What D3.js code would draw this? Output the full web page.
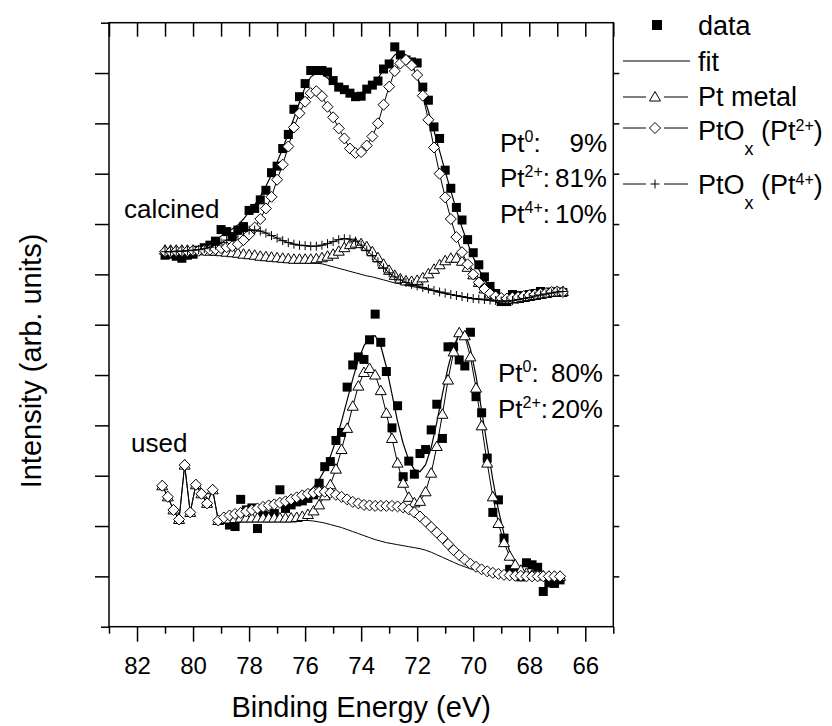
<!DOCTYPE html>
<html>
<head>
<meta charset="utf-8">
<script src="https://cdn.jsdelivr.net/npm/d3@7"></script>
<style>
  body { margin: 0; background: #fff; }
  svg { display: block; font-family: "Liberation Sans", Arial, sans-serif; }
</style>
</head>
<body>
<svg width="832" height="726"></svg>
<script>
// binding energies (eV) and intensities

const calcinedEnergy = [81.0,80.8,80.6,80.4,80.2,80.0,79.8,79.6,79.4,79.2,79.0,78.8,78.6,78.4,78.2,78.0,77.8,77.6,77.4,77.2,
  77.0,76.8,76.6,76.4,76.2,76.0,75.8,75.6,75.4,75.2,75.0,74.8,74.6,74.4,74.2,74.0,73.8,73.6,73.4,73.2,
  73.0,72.8,72.6,72.4,72.2,72.0,71.8,71.6,71.4,71.2,71.0,70.8,70.6,70.4,70.2,70.0,69.8,69.6,69.4,69.2,
  69.0,68.8,68.6,68.4,68.2,68.0,67.8,67.6,67.4,67.2,67.0,66.8];

const calcinedData = [7.38,7.40,7.36,7.32,7.38,7.40,7.48,7.53,7.58,7.66,
  7.89,7.85,7.75,7.88,7.95,8.27,8.31,8.48,8.67,9.02,
  9.15,9.50,9.78,10.28,10.53,10.79,11.05,11.05,11.05,11.02,
  10.85,10.72,10.67,10.60,10.53,10.54,10.68,10.76,10.84,11.08,
  11.18,11.52,11.36,11.26,11.22,11.20,10.72,10.46,9.93,9.70,
  9.07,8.71,8.33,8.08,7.69,7.43,7.19,6.95,6.76,6.62,
  6.46,6.46,6.60,6.58,6.57,6.60,6.62,6.66,6.62,6.65,6.65,6.64];

const calcinedFit = [7.40,7.40,7.41,7.42,7.43,7.45,7.48,7.52,7.58,7.66,
  7.76,7.84,7.90,7.98,8.10,8.24,8.38,8.55,8.75,8.98,
  9.23,9.50,9.80,10.10,10.42,10.72,10.92,11.00,10.98,10.90,
  10.80,10.70,10.62,10.58,10.56,10.58,10.65,10.76,10.90,11.06,
  11.22,11.36,11.42,11.36,11.18,10.92,10.60,10.24,9.85,9.45,
  9.05,8.66,8.28,7.93,7.62,7.34,7.10,6.90,6.74,6.62,
  6.55,6.52,6.52,6.54,6.56,6.58,6.60,6.62,6.64,6.66,6.66,6.65];

const calcinedBackground = [7.44,7.44,7.45,7.45,7.45,7.45,7.45,7.44,7.44,7.43,
  7.43,7.42,7.40,7.39,7.37,7.36,7.35,7.33,7.32,7.31,
  7.30,7.29,7.28,7.26,7.25,7.24,7.23,7.22,7.21,7.18,
  7.15,7.12,7.09,7.06,7.03,7.00,6.97,6.95,6.92,6.89,
  6.86,6.83,6.81,6.78,6.76,6.74,6.72,6.69,6.67,6.64,
  6.62,6.60,6.57,6.55,6.53,6.51,6.50,6.49,6.48,6.47,
  6.46,6.46,6.47,6.49,6.52,6.54,6.56,6.58,6.60,6.62,6.64,6.65];

const calcinedMetal = [7.48,7.48,7.48,7.48,7.48,7.48,7.47,7.47,7.46,7.46,
  7.45,7.44,7.43,7.42,7.40,7.39,7.38,7.36,7.35,7.34,
  7.33,7.32,7.31,7.30,7.30,7.30,7.30,7.31,7.33,7.36,
  7.40,7.46,7.53,7.59,7.62,7.61,7.55,7.45,7.33,7.20,
  7.08,6.98,6.91,6.87,6.86,6.88,6.93,7.01,7.10,7.19,
  7.27,7.32,7.32,7.26,7.14,6.99,6.84,6.71,6.61,6.55,
  6.52,6.51,6.51,6.52,6.54,6.56,6.58,6.60,6.62,6.64,6.65,6.66];

const calcinedPt2 = [7.45,7.45,7.46,7.46,7.46,7.47,7.47,7.48,7.49,7.50,
  7.52,7.54,7.56,7.60,7.68,7.79,7.93,8.10,8.31,8.54,
  8.88,9.18,9.54,9.92,10.20,10.43,10.60,10.64,10.54,10.33,
  10.12,9.90,9.70,9.50,9.41,9.43,9.56,9.74,10.00,10.37,
  10.73,11.04,11.19,11.26,11.15,10.96,10.55,10.07,9.52,9.00,
  8.53,8.10,7.74,7.44,7.20,7.00,6.84,6.71,6.62,6.56,
  6.53,6.52,6.54,6.55,6.57,6.59,6.60,6.62,6.63,6.65,6.66,6.65];

const calcinedPt4 = [7.45,7.45,7.46,7.46,7.47,7.48,7.49,7.51,7.54,7.58,
  7.63,7.68,7.74,7.80,7.85,7.88,7.88,7.86,7.82,7.77,
  7.72,7.67,7.63,7.60,7.58,7.57,7.56,7.56,7.58,7.61,
  7.65,7.69,7.71,7.70,7.66,7.58,7.48,7.37,7.25,7.13,
  7.03,6.95,6.89,6.84,6.80,6.77,6.74,6.71,6.68,6.65,
  6.63,6.60,6.58,6.56,6.54,6.52,6.51,6.50,6.49,6.48,
  6.47,6.47,6.48,6.50,6.52,6.54,6.57,6.59,6.61,6.63,6.65,6.66];

const usedEnergy = [81.1,80.9,80.7,80.5,80.3,80.1,79.9,79.7,79.5,79.3,79.1,78.9,78.7,78.5,78.3,78.1,77.9,77.7,77.5,77.3,
  77.1,76.9,76.7,76.5,76.3,76.1,75.9,75.7,75.5,75.3,75.1,74.9,74.7,74.5,74.3,74.1,73.9,73.7,73.5,73.3,
  73.1,72.9,72.7,72.5,72.3,72.1,71.9,71.7,71.5,71.3,71.1,70.9,70.7,70.5,70.3,70.1,69.9,69.7,69.5,69.3,
  69.1,68.9,68.7,68.5,68.3,68.1,67.9,67.7,67.5,67.3,67.1,66.9];

const usedData = [null,null,null,null,null,null,null,null,null,null,null,null,
  2.02,1.99,2.53,2.32,2.36,1.95,2.22,2.20,2.25,2.72,
  2.35,2.42,2.48,2.50,2.55,2.62,2.85,3.18,3.28,3.70,
  3.86,4.76,5.20,5.36,5.31,5.70,6.21,5.65,5.07,3.95,
  4.39,2.98,3.29,3.03,3.44,3.52,3.91,4.42,3.74,5.56,
  5.56,5.30,5.18,5.85,4.57,4.25,3.35,2.27,2.52,1.76,
  1.14,1.07,0.99,1.27,1.23,1.18,0.70,0.87,0.86,0.93];

const usedFit = [null,null,null,null,null,null,null,null,null,null,
  2.11,2.14,2.17,2.20,2.23,2.26,2.29,2.32,2.35,2.38,
  2.41,2.44,2.47,2.50,2.55,2.60,2.67,2.77,2.92,3.12,
  3.38,3.70,4.08,4.50,4.92,5.30,5.58,5.76,5.78,5.58,
  5.16,4.62,4.08,3.64,3.31,3.12,3.08,3.22,3.56,4.06,
  4.62,5.15,5.56,5.82,5.84,5.52,4.98,4.30,3.60,2.92,
  2.32,1.84,1.50,1.28,1.15,1.08,1.04,1.02,1.01,1.00,1.00,0.99];

const usedBackground = [null,null,null,null,null,null,null,null,null,null,
  2.11,2.12,2.13,2.14,2.15,2.15,2.16,2.16,2.16,2.16,
  2.16,2.15,2.15,2.14,2.13,2.12,2.11,2.10,2.08,2.06,
  2.03,2.00,1.97,1.93,1.89,1.85,1.81,1.77,1.73,1.70,
  1.67,1.65,1.63,1.61,1.59,1.57,1.55,1.52,1.48,1.43,
  1.38,1.33,1.28,1.23,1.19,1.15,1.12,1.09,1.07,1.05,
  1.03,1.02,1.01,1.00,0.99,0.99,0.99,0.99,0.99,0.99,0.99,0.99];

const usedMetal = [2.80,2.58,2.32,2.13,3.21,2.27,2.82,2.64,2.45,2.72,2.11,
  2.13,2.14,2.15,2.16,2.16,2.16,2.16,2.16,2.16,2.16,
  2.16,2.16,2.16,2.17,2.19,2.23,2.30,2.42,2.60,2.82,
  3.13,3.52,3.94,4.38,4.78,5.05,5.13,5.00,4.69,4.24,
  3.74,3.25,2.85,2.57,2.46,2.49,2.68,3.05,3.58,4.22,
  4.90,5.46,5.84,5.78,5.36,4.74,3.99,3.25,2.58,2.05,
  1.67,1.40,1.23,1.12,1.06,1.03,1.02,1.01,1.00,1.00,1.00];

const usedPt2 = [2.80,2.58,2.32,2.13,3.21,2.27,2.82,2.64,2.45,2.72,2.11,
  2.17,2.21,2.24,2.26,2.29,2.32,2.35,2.38,2.41,2.43,
  2.46,2.49,2.53,2.57,2.61,2.64,2.66,2.68,2.68,2.66,
  2.62,2.58,2.53,2.48,2.45,2.42,2.41,2.40,2.40,2.40,
  2.40,2.39,2.37,2.33,2.27,2.19,2.09,1.98,1.87,1.76,
  1.64,1.52,1.42,1.33,1.25,1.19,1.14,1.10,1.07,1.05,
  1.03,1.02,1.01,1.01,1.00,1.00,1.00,1.00,1.00,1.00,1.00];

const xMajorTicks = [82, 80, 78, 76, 74, 72, 70, 68, 66];
const xMinorTicks = [83, 81, 79, 77, 75, 73, 71, 69, 67, 65];
const yTicks = [1, 2, 3, 4, 5, 6, 7, 8, 9, 10, 11];

// set dimensions

const margin = { top: 22.7, left: 109 },
      width = 504.3,
      height = 604;

const svg = d3.select("svg");
const g = svg.append("g")
             .attr("transform", `translate(${margin.left},${margin.top})`);

const x = d3.scaleLinear().domain([83, 65]).range([0, width]);
const y = d3.scaleLinear().domain([0, 12]).range([height, 0]);

const pts = (energy, values) => energy.map((e, i) => ({ e: e, v: values[i] }))
                                      .filter(d => d.v != null);

const line = d3.line()
               .x(d => x(d.e))
               .y(d => y(d.v));

// marker shapes
const triPath = "M0,-5.5L5.5,4L-5.5,4Z";
const diaPath = "M0,-5.5L5.5,0L0,5.5L-5.5,0Z";
const crossPath = "M-4.5,0H4.5M0,-4.5V4.5";

function drawLine(values, energy, w) {
  g.append("path")
   .datum(pts(energy, values))
   .attr("fill", "none")
   .attr("stroke", "#000")
   .attr("stroke-width", w)
   .attr("d", line);
}

function drawMarkers(values, energy, shape, fill) {
  g.append("g")
   .selectAll("path")
   .data(pts(energy, values))
   .enter()
   .append("path")
   .attr("transform", d => `translate(${x(d.e)},${y(d.v)})`)
   .attr("d", shape)
   .attr("fill", fill)
   .attr("stroke", "#000")
   .attr("stroke-width", 1);
}

function drawSquares(values, energy) {
  g.append("g")
   .selectAll("rect")
   .data(pts(energy, values))
   .enter()
   .append("rect")
   .attr("x", d => x(d.e) - 4.5)
   .attr("y", d => y(d.v) - 4.5)
   .attr("width", 9)
   .attr("height", 9)
   .attr("fill", "#000");
}

// calcined
drawLine(calcinedBackground, calcinedEnergy, 1);
drawSquares(calcinedData, calcinedEnergy);
drawLine(calcinedFit, calcinedEnergy, 1.2);
drawLine(calcinedMetal, calcinedEnergy, 1);
drawMarkers(calcinedMetal, calcinedEnergy, triPath, "#fff");
drawLine(calcinedPt2, calcinedEnergy, 1);
drawMarkers(calcinedPt2, calcinedEnergy, diaPath, "#fff");
drawLine(calcinedPt4, calcinedEnergy, 1);
drawMarkers(calcinedPt4, calcinedEnergy, crossPath, "none");

// used
drawLine(usedBackground, usedEnergy, 1);
drawSquares(usedData, usedEnergy);
drawLine(usedFit, usedEnergy, 1.2);
drawLine(usedMetal, usedEnergy, 1);
drawMarkers(usedMetal, usedEnergy, triPath, "#fff");
drawLine(usedPt2, usedEnergy, 1);
drawMarkers(usedPt2, usedEnergy, diaPath, "#fff");

// axes

const axisStyle = sel => {
  sel.selectAll(".domain").remove();
  sel.selectAll(".tick line").attr("stroke", "#000").attr("stroke-width", 1.5);
};

g.append("g")
 .attr("transform", `translate(0,${height})`)
 .call(d3.axisBottom(x).tickValues(xMajorTicks).tickSize(15).tickPadding(15))
 .call(axisStyle)
 .selectAll("text")
 .attr("font-size", 24)
 .attr("font-family", "Liberation Sans, Arial, sans-serif")
 .attr("fill", "#000");

g.append("g")
 .attr("transform", `translate(0,${height})`)
 .call(d3.axisBottom(x).tickValues(xMinorTicks).tickSize(7).tickFormat(""))
 .call(axisStyle);

g.append("g")
 .call(d3.axisTop(x).tickValues(xMajorTicks.concat(xMinorTicks)).tickSize(-14).tickFormat(""))
 .call(axisStyle);

g.append("g")
 .call(d3.axisLeft(y).tickValues(yTicks).tickSize(14).tickFormat(""))
 .call(axisStyle);

g.append("g")
 .call(d3.axisLeft(y).tickValues([0, 12]).tickSize(8).tickFormat(""))
 .call(axisStyle);

g.append("g")
 .attr("transform", `translate(${width},0)`)
 .call(d3.axisRight(y).tickValues(yTicks).tickSize(6).tickFormat(""))
 .call(axisStyle);

g.append("rect")
 .attr("width", width)
 .attr("height", height)
 .attr("fill", "none")
 .attr("stroke", "#000")
 .attr("stroke-width", 1.5);

// axis titles

svg.append("text")
   .attr("x", margin.left + width / 2)
   .attr("y", 717)
   .attr("text-anchor", "middle")
   .attr("font-size", 29)
   .text("Binding Energy (eV)");

svg.append("text")
   .attr("transform", "translate(41,361) rotate(-90)")
   .attr("text-anchor", "middle")
   .attr("font-size", 29)
   .text("Intensity (arb. units)");

// spectrum labels

svg.append("text").attr("x", 124).attr("y", 218).attr("font-size", 26).text("calcined");
svg.append("text").attr("x", 131).attr("y", 452).attr("font-size", 26).text("used");

function ptLabel(px, py, sup, pct, right) {
  const t = svg.append("text").attr("x", px).attr("y", py).attr("font-size", 26);
  t.append("tspan").text("Pt");
  t.append("tspan").attr("font-size", 16).attr("dy", -10).text(sup);
  t.append("tspan").attr("dy", 10).text(":");
  svg.append("text")
     .attr("x", right)
     .attr("y", py)
     .attr("text-anchor", "end")
     .attr("font-size", 26)
     .text(pct);
}

ptLabel(500, 152, "0", "9%", 607);
ptLabel(500, 187, "2+", "81%", 607);
ptLabel(500, 223, "4+", "10%", 607);
ptLabel(498, 382, "0", "80%", 603);
ptLabel(498, 418, "2+", "20%", 603);

// legend

const leg = svg.append("g");
const legX = 698;

leg.append("rect").attr("x", 652).attr("y", 20).attr("width", 10).attr("height", 10).attr("fill", "#000");
leg.append("text").attr("x", legX).attr("y", 35).attr("font-size", 27).text("data");

leg.append("line").attr("x1", 623).attr("x2", 690).attr("y1", 61).attr("y2", 61).attr("stroke", "#000");
leg.append("text").attr("x", legX).attr("y", 71).attr("font-size", 27).text("fit");

function legendSymbolRow(cy, shape, fill) {
  leg.append("line").attr("x1", 623).attr("x2", 646).attr("y1", cy).attr("y2", cy).attr("stroke", "#000");
  leg.append("line").attr("x1", 664).attr("x2", 688).attr("y1", cy).attr("y2", cy).attr("stroke", "#000");
  leg.append("path").attr("transform", `translate(655,${cy})`).attr("d", shape)
     .attr("fill", fill).attr("stroke", "#000");
}

legendSymbolRow(97, triPath, "#fff");
leg.append("text").attr("x", legX).attr("y", 106).attr("font-size", 27).text("Pt metal");

function oxideLabel(py, sup) {
  const t = leg.append("text").attr("x", legX).attr("y", py).attr("font-size", 27);
  t.append("tspan").text("PtO");
  t.append("tspan").attr("font-size", 18).attr("dy", 15).text("x");
  t.append("tspan").attr("dy", -15).text(" (Pt");
  t.append("tspan").attr("font-size", 16).attr("dy", -9).text(sup);
  t.append("tspan").attr("dy", 9).text(")");
}

legendSymbolRow(128, diaPath, "#fff");
oxideLabel(140, "2+");
legendSymbolRow(184, crossPath, "none");
oxideLabel(194, "4+");
</script>
</body>
</html>
